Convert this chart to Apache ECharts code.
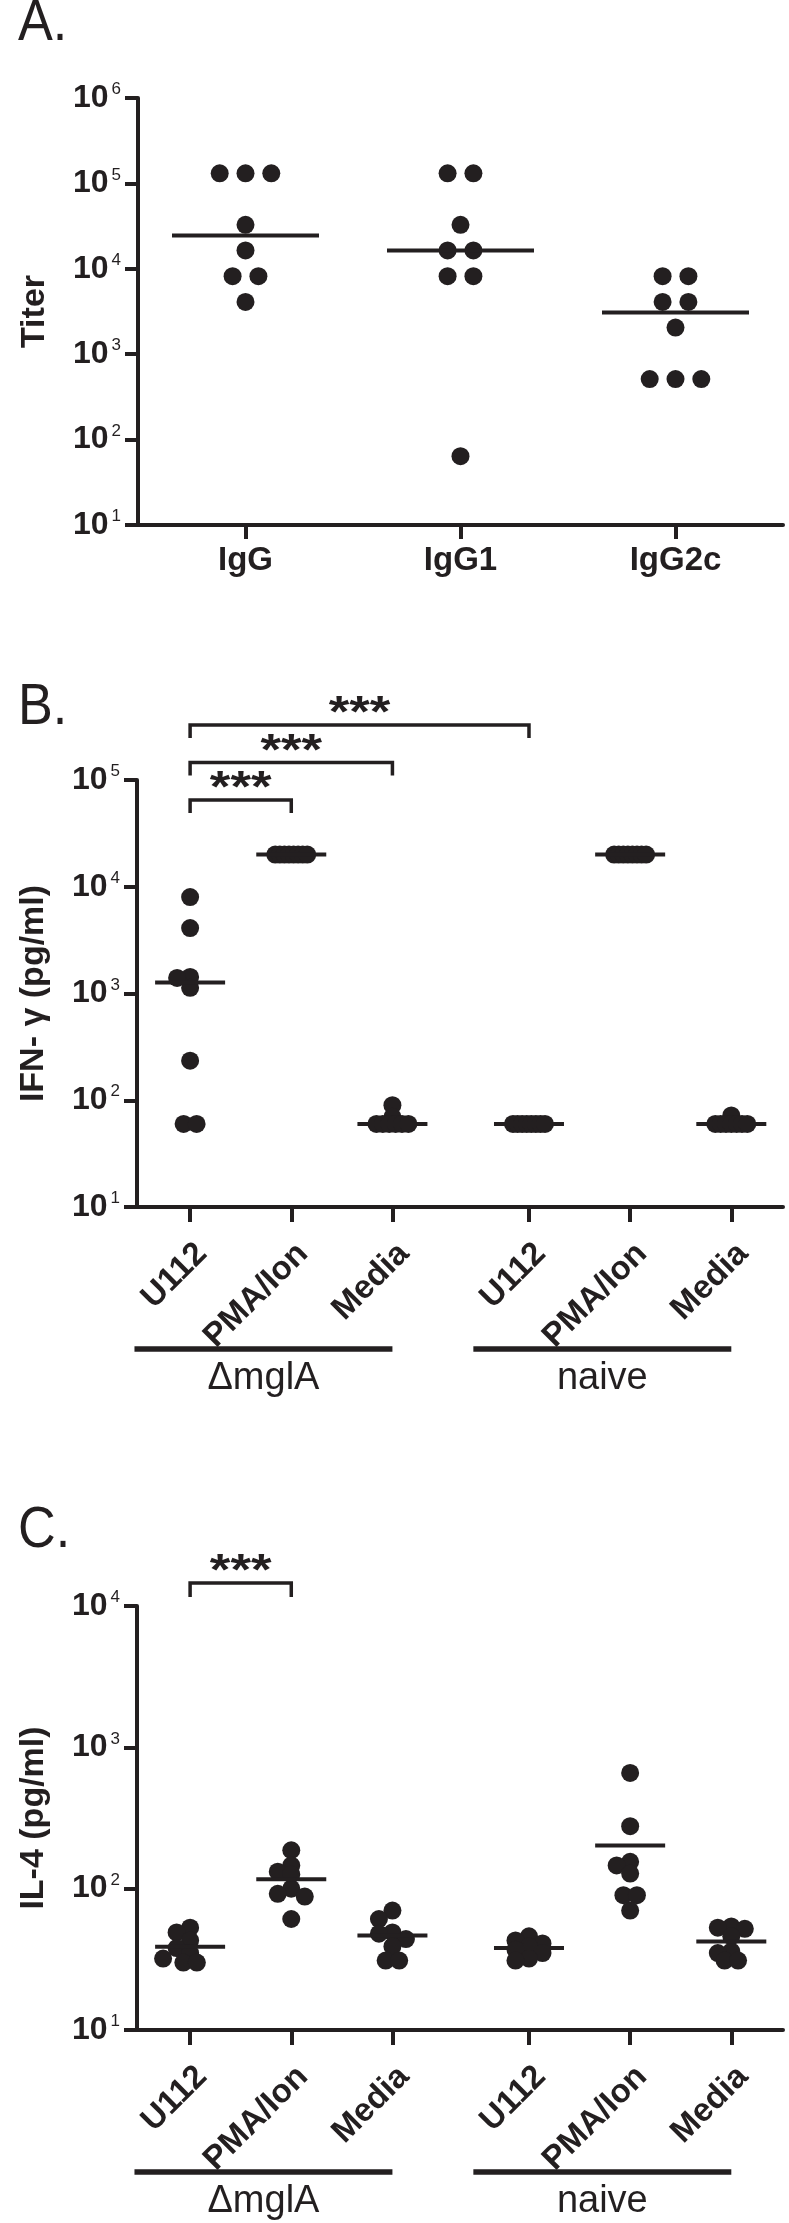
<!DOCTYPE html>
<html>
<head>
<meta charset="utf-8">
<script src="https://cdn.jsdelivr.net/npm/echarts@6/dist/echarts.min.js"></script>
<style>
html,body{margin:0;padding:0;background:#fff;}
#chart{width:789px;height:2223px;}
</style>
</head>
<body>
<div id="chart"></div>
<script>
// ---------------- DATA ----------------
// Panel A: antibody titers
const catsA = ['IgG', 'IgG1', 'IgG2c'];
const titerIgG   = [131072, 131072, 131072, 32768, 16384, 8192, 8192, 4096];
const titerIgG1  = [131072, 131072, 32768, 16384, 16384, 8192, 8192, 64];
const titerIgG2c = [8192, 8192, 4096, 4096, 2048, 512, 512, 512];

// Panels B and C: stimulations within mouse groups
const stimCats = ['U112', 'PMA/Ion', 'Media'];
const mouseGroups = ['ΔmglA', 'naive'];

// Panel B: IFN-γ (pg/ml)
const ifnMglaU112   = [8000, 4100, 1430, 1400, 1130, 235, 60, 60];
const ifnMglaPMA    = [20000, 20000, 20000, 20000, 20000, 20000, 20000, 20000];
const ifnMglaMedia  = [90, 70, 60, 60, 60, 60, 60, 60];
const ifnNaiveU112  = [60, 60, 60, 60, 60, 60, 60, 60];
const ifnNaivePMA   = [20000, 20000, 20000, 20000, 20000, 20000, 20000, 20000];
const ifnNaiveMedia = [72, 60, 60, 60, 60, 60, 60, 60];

// Panel C: IL-4 (pg/ml)
const il4MglaU112   = [53, 49, 43, 38, 35, 32, 30, 30];
const il4MglaPMA    = [187, 146, 132, 126, 100, 92, 88, 61];
const il4MglaMedia  = [70, 61, 49, 48, 44, 39, 31, 31];
const il4NaiveU112  = [46, 43, 41, 39, 37, 35, 32, 31];
const il4NaivePMA   = [659, 277, 155, 146, 128, 90, 90, 70];
const il4NaiveMedia = [54, 53, 52, 46, 36, 35, 31, 31];

// significance comparisons (indices into the stimulation positions)
const sigIFN = [[0, 1, '***'], [0, 2, '***'], [0, 3, '***']];
const sigIL4 = [[0, 1, '***']];

// ---------------- STYLE / LAYOUT ----------------
const INK = '#231f20';
const FONT = "'Liberation Sans', Arial, Helvetica, sans-serif";
const GROUP_GAP = 0.35;
const X_MIN = -0.525, X_MAX = 5.861;
const G = [
  {left: 138, top: 98, width: 645, height: 427, decades: 5},
  {left: 137, top: 780, width: 646, height: 427, decades: 4},
  {left: 137, top: 1606, width: 646, height: 424, decades: 3}
];

const stimPos = [];
mouseGroups.forEach((g, gi) => stimCats.forEach((s, si) => stimPos.push(gi * (stimCats.length + GROUP_GAP) + si)));
function stimLabel(v) {
  const i = stimPos.findIndex(p => Math.abs(p - v) < 1e-6);
  return i < 0 ? '' : stimCats[i % stimCats.length];
}

function median(a) {
  const s = a.slice().sort((x, y) => x - y), n = s.length;
  return n % 2 ? s[(n - 1) / 2] : (s[n / 2 - 1] + s[n / 2]) / 2;
}
function mean(a) { return a.reduce((s, v) => s + v, 0) / a.length; }

// beeswarm: horizontal pixel offsets avoiding overlaps
function swarm(values, pxPerDec, opt) {
  const n = values.length;
  const off = new Array(n).fill(null);
  const ys = values.map(v => -Math.log10(v) * pxPerDec);
  const byVal = new Map();
  values.forEach((v, i) => { if (!byVal.has(v)) byVal.set(v, []); byVal.get(v).push(i); });
  byVal.forEach(idx => {
    if (idx.length > 1) {
      const sp = Math.min(opt.step, opt.maxSpread / (idx.length - 1));
      idx.forEach((i, k) => { off[i] = (k - (idx.length - 1) / 2) * sp; });
    }
  });
  const singles = values.map((v, i) => i).filter(i => off[i] === null).sort((a, b) => values[b] - values[a]);
  singles.forEach(i => {
    for (let k = 0; k < 30; k++) {
      const cand = k === 0 ? 0 : (k % 2 ? -1 : 1) * Math.ceil(k / 2) * opt.step;
      const ok = values.every((w, j) => j === i || off[j] === null ||
        Math.hypot(off[j] - cand, ys[j] - ys[i]) >= opt.minDist);
      if (ok || k === 29) { off[i] = cand; break; }
    }
  });
  return off;
}

function dotData(cols, pxPerDec, opt) {
  const data = [];
  cols.forEach(c => {
    const off = swarm(c.values, pxPerDec, opt);
    c.values.forEach((v, i) => data.push({value: [c.x, v], symbolOffset: [off[i], 0]}));
  });
  return data;
}

const colsA = [titerIgG, titerIgG1, titerIgG2c].map((values, k) => ({x: k, values}));
const colsB = [ifnMglaU112, ifnMglaPMA, ifnMglaMedia, ifnNaiveU112, ifnNaivePMA, ifnNaiveMedia]
  .map((values, k) => ({x: stimPos[k], values}));
const colsC = [il4MglaU112, il4MglaPMA, il4MglaMedia, il4NaiveU112, il4NaivePMA, il4NaiveMedia]
  .map((values, k) => ({x: stimPos[k], values}));

const pxDec = G.map(g => g.height / g.decades);

function logAxis(gi, maxV, name) {
  return {
    gridIndex: gi, type: 'log', logBase: 10, min: 10, max: maxV,
    axisLine: {show: true, onZero: false, lineStyle: {color: INK, width: 4}},
    axisTick: {show: true, length: 13, lineStyle: {color: INK, width: 4}},
    splitLine: {show: false}, minorTick: {show: false},
    axisLabel: {
      show: true, margin: 17, showMinLabel: true, showMaxLabel: true,
      formatter: v => '{b|10}{s|' + Math.round(Math.log10(v)) + '}',
      rich: {
        b: {fontFamily: FONT, fontWeight: 'bold', fontSize: 32, color: INK, lineHeight: 34},
        s: {fontFamily: FONT, fontSize: 17, color: INK, lineHeight: 17, verticalAlign: 'top', padding: [0, 0, 0, 3]}
      }
    },
    name: name, nameLocation: 'middle', nameRotate: 90, nameGap: 86,
    nameTextStyle: {fontFamily: FONT, fontWeight: 'bold', fontSize: 34, color: INK}
  };
}
function stimAxis(gi) {
  return {
    gridIndex: gi, type: 'value', min: X_MIN, max: X_MAX,
    axisLine: {show: true, onZero: false, lineStyle: {color: INK, width: 4}},
    axisTick: {show: true, customValues: stimPos, length: 15, lineStyle: {color: INK, width: 4}},
    axisLabel: {
      show: true, customValues: stimPos, rotate: 45, align: 'right', verticalAlign: 'top', margin: 30,
      formatter: v => stimLabel(v),
      fontFamily: FONT, fontWeight: 'bold', fontSize: 33, color: INK
    },
    splitLine: {show: false}
  };
}

function dotSeries(i, cols, opt) {
  return {type: 'scatter', xAxisIndex: i, yAxisIndex: i, symbol: 'circle', symbolSize: 18,
    itemStyle: {color: INK, opacity: 1}, silent: true, z: 2,
    data: dotData(cols, pxDec[i], opt)};
}
function lineSeries(i, cols, stat, w) {
  return {type: 'scatter', xAxisIndex: i, yAxisIndex: i, symbol: 'rect', symbolSize: [w, 4],
    itemStyle: {color: INK, opacity: 1}, silent: true, z: 3,
    data: cols.map(c => [c.x, stat(c.values)])};
}

const chart = echarts.init(document.getElementById('chart'), null, {renderer: 'canvas'});
const option = {
  animation: false,
  backgroundColor: '#ffffff',
  textStyle: {fontFamily: FONT, color: INK},
  grid: G.map(g => ({left: g.left, top: g.top, width: g.width, height: g.height})),
  xAxis: [
    {
      gridIndex: 0, type: 'category', data: catsA, boundaryGap: true,
      axisLine: {show: true, onZero: false, lineStyle: {color: INK, width: 4}},
      axisTick: {show: true, alignWithLabel: true, length: 14, lineStyle: {color: INK, width: 4}},
      axisLabel: {margin: 19, fontFamily: FONT, fontWeight: 'bold', fontSize: 33, color: INK},
      splitLine: {show: false}
    },
    stimAxis(1), stimAxis(2)
  ],
  yAxis: [logAxis(0, 1e6, 'Titer'), logAxis(1, 1e5, 'IFN- γ (pg/ml)'), logAxis(2, 1e4, 'IL-4 (pg/ml)')],
  series: [
    dotSeries(0, colsA, {step: 25.8, maxSpread: 60, minDist: 20}),
    lineSeries(0, colsA, median, 147),
    dotSeries(1, colsB, {step: 13, maxSpread: 32, minDist: 7}),
    lineSeries(1, colsB, median, 70),
    dotSeries(2, colsC, {step: 13.5, maxSpread: 32, minDist: 9}),
    lineSeries(2, colsC, mean, 70)
  ]
};
chart.setOption(option);

// --------- annotations (titles, brackets, group bars) ---------
const graphics = [];
[['A.', 24], ['B.', 708], ['C.', 1531]].forEach(([t, y]) => {
  graphics.push({type: 'text', x: 18, y: y, silent: true, scaleX: 0.9,
    style: {text: t, fontFamily: FONT, fontSize: 58, fill: INK, align: 'left', verticalAlign: 'middle'}});
});

function brackets(axisIdx, sigs, baseY, levelStep, leg) {
  sigs.forEach(([a, b, label], lvl) => {
    const x1 = chart.convertToPixel({xAxisIndex: axisIdx}, stimPos[a]);
    const x2 = chart.convertToPixel({xAxisIndex: axisIdx}, stimPos[b]);
    const y = baseY - lvl * levelStep;
    graphics.push({type: 'polyline', silent: true,
      shape: {points: [[x1, y + leg], [x1, y], [x2, y], [x2, y + leg]]},
      style: {stroke: INK, lineWidth: 3.5, fill: null, lineJoin: 'miter', lineCap: 'butt'}});
    graphics.push({type: 'text', x: (x1 + x2) / 2, y: y - 10, silent: true, scaleX: 1.2,
      style: {text: label, fontFamily: FONT, fontWeight: 'bold', fontSize: 44, fill: INK, align: 'center', verticalAlign: 'middle'}});
  });
}
brackets(1, sigIFN, G[1].top + 20, 37.5, 13);
brackets(2, sigIL4, G[2].top - 23, 37.5, 14);

function groupBars(axisIdx, axisY) {
  mouseGroups.forEach((name, gi) => {
    const first = stimPos[gi * stimCats.length];
    const last = stimPos[gi * stimCats.length + stimCats.length - 1];
    const x1 = chart.convertToPixel({xAxisIndex: axisIdx}, first - 0.55);
    const x2 = chart.convertToPixel({xAxisIndex: axisIdx}, last);
    const y = axisY + 142;
    graphics.push({type: 'line', silent: true, shape: {x1: x1, y1: y, x2: x2, y2: y},
      style: {stroke: INK, lineWidth: 5.5}});
    graphics.push({type: 'text', x: (x1 + x2) / 2, y: y + 30, silent: true,
      style: {text: name, fontFamily: FONT, fontSize: 38, fill: INK, align: 'center', verticalAlign: 'middle'}});
  });
}
groupBars(1, G[1].top + G[1].height);
groupBars(2, G[2].top + G[2].height);

chart.setOption({graphic: graphics});
</script>
</body>
</html>
